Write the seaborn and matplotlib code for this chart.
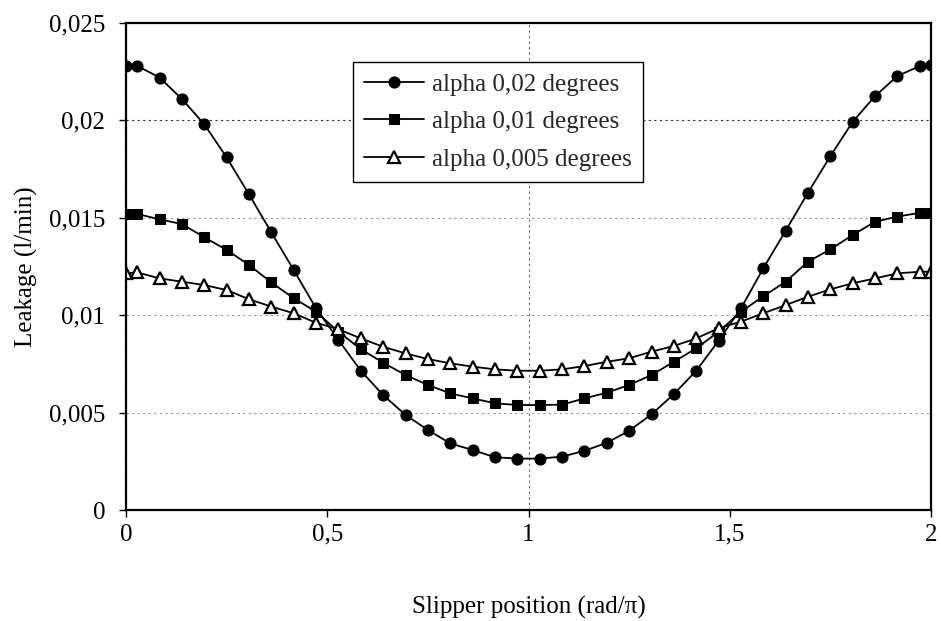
import seaborn as sns
import matplotlib.pyplot as plt
import matplotlib.ticker as mticker
import numpy as np

# Posicion del patin en grados (se pasa a rad/pi)
angle_deg = [0, 5, 15, 25, 35, 45, 55, 65, 75, 85, 95, 105, 115, 125, 135, 145, 155, 165, 175,
             185, 195, 205, 215, 225, 235, 245, 255, 265, 275, 285, 295, 305, 315, 325, 335, 345, 355, 360]

leak_002 = [0.0228, 0.0228, 0.0222, 0.0211, 0.0198, 0.0181, 0.0162, 0.01425, 0.01232, 0.01035,
            0.00873, 0.00715, 0.0059, 0.00488, 0.00411, 0.00342, 0.00308, 0.00271, 0.00264,
            0.00264, 0.00274, 0.00304, 0.00345, 0.00407, 0.00491, 0.00595, 0.00715, 0.00869,
            0.01035, 0.01241, 0.01434, 0.01629, 0.01817, 0.01993, 0.02125, 0.02228, 0.02279, 0.02284]

leak_001 = [0.0152, 0.0152, 0.01492, 0.01468, 0.0140, 0.01335, 0.01258, 0.01168, 0.01087, 0.01018,
            0.00915, 0.00826, 0.00756, 0.00693, 0.00642, 0.00599, 0.00573, 0.00548, 0.00539,
            0.00539, 0.00541, 0.00573, 0.00602, 0.00642, 0.00693, 0.00761, 0.0083, 0.00915,
            0.01018, 0.01097, 0.01172, 0.01275, 0.01338, 0.01412, 0.0148, 0.01506, 0.01526, 0.01526]

leak_0005 = [0.01215, 0.0122, 0.01189, 0.01172, 0.01155, 0.01129, 0.01082, 0.01044, 0.0101, 0.00961,
             0.00928, 0.00881, 0.00838, 0.00804, 0.00775, 0.00753, 0.00736, 0.00722, 0.00715,
             0.00715, 0.00722, 0.00739, 0.00761, 0.00779, 0.00813, 0.00842, 0.00881, 0.00933,
             0.00967, 0.0101, 0.01052, 0.01095, 0.01133, 0.01164, 0.01189, 0.01215, 0.01223, 0.01223]

labels = ["alpha 0,02 degrees", "alpha 0,01 degrees", "alpha 0,005 degrees"]

x_major = [0, 1, 2]
x_major_labels = ["0", "1", "2"]
x_minor = [0.5, 1.5]
x_minor_labels = ["0,5", "1,5"]
y_ticks = [0, 0.005, 0.01, 0.015, 0.02, 0.025]
y_tick_labels = ["0", "0,005", "0,01", "0,015", "0,02", "0,025"]

x = np.array(angle_deg) / 180.0

sns.set_theme(style="white")
plt.rcParams['font.family'] = ['Liberation Serif', 'DejaVu Serif']

fig = plt.figure(figsize=(9.41, 6.21), dpi=100)
ax = fig.add_axes([0.1339, 0.1787, 0.8555, 0.7843])

sns.lineplot(x=x, y=leak_002, ax=ax, color="black", lw=1.3, marker="o", markersize=8,
             markeredgecolor="black", label=labels[0], sort=False)
sns.lineplot(x=x, y=leak_001, ax=ax, color="black", lw=1.3, marker="s", markersize=7.5,
             markeredgecolor="black", label=labels[1], sort=False)
sns.lineplot(x=x, y=leak_0005, ax=ax, color="black", lw=1.3, marker="^", markersize=8,
             markerfacecolor="white", markeredgecolor="black", markeredgewidth=1.6,
             label=labels[2], sort=False)

ax.set_xlim(0, 2)
ax.set_ylim(0, 0.025)

# rejilla vertical solo en los ticks principales (0, 1, 2)
ax.xaxis.set_major_locator(mticker.FixedLocator(x_major))
ax.xaxis.set_major_formatter(mticker.FixedFormatter(x_major_labels))
ax.xaxis.set_minor_locator(mticker.FixedLocator(x_minor))
ax.xaxis.set_minor_formatter(mticker.FixedFormatter(x_minor_labels))
ax.set_yticks(y_ticks)
ax.set_yticklabels(y_tick_labels)

ax.tick_params(axis="both", which="both", direction="out", length=5, width=1, color="black",
               labelsize=18, labelcolor="black")
ax.tick_params(axis="x", which="both", pad=5, bottom=True)
ax.tick_params(axis="y", pad=10, left=True)

ax.grid(True, axis="y", color="#999999", linestyle=(0, (2, 3)), lw=0.8)
ax.grid(True, axis="x", which="major", color="#666666", linestyle=(0, (2, 3)), lw=0.8)
for gl, v in zip(ax.get_ygridlines(), y_ticks):
    if v == 0.02:
        gl.set_color("#333333")

for sp in ax.spines.values():
    sp.set_color("black")
    sp.set_linewidth(1.6)

ax.set_xlabel("Slipper position (rad/\u03c0)", fontsize=18, color="black", labelpad=36)
ax.set_ylabel("Leakage (l/min)", fontsize=18, color="black", labelpad=8)

leg = ax.legend(loc="upper left", bbox_to_anchor=(0.282, 0.92), borderaxespad=0, fontsize=18,
                frameon=True, fancybox=False, edgecolor="black", framealpha=1,
                handlelength=2.4, handletextpad=0.3, borderpad=0.45, labelspacing=0.6)
leg.get_frame().set_linewidth(1.0)

plt.savefig("out.png", dpi=100)
